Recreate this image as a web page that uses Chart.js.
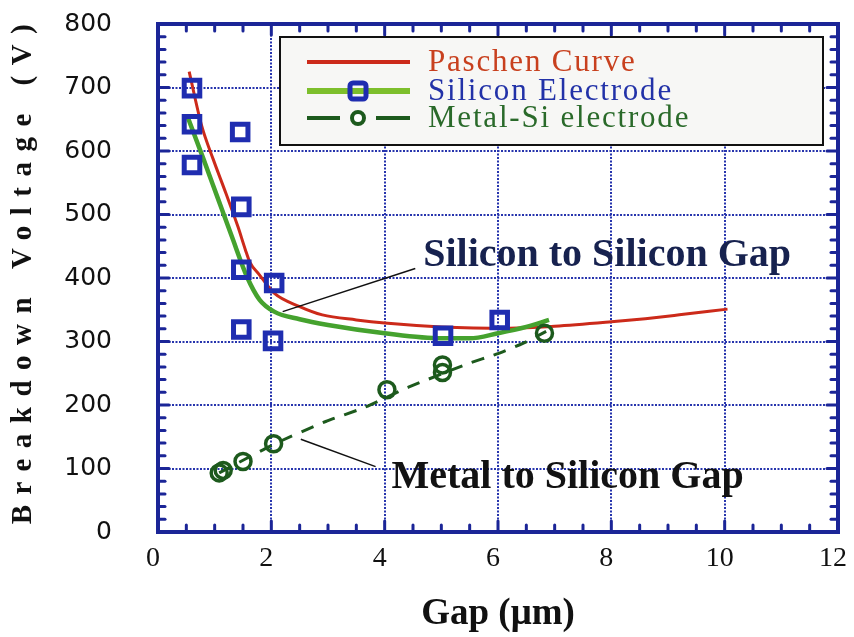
<!DOCTYPE html>
<html>
<head>
<meta charset="utf-8">
<script src="https://cdn.jsdelivr.net/npm/chart.js@4/dist/chart.umd.min.js"></script>
<style>
html,body{margin:0;padding:0;background:#ffffff;}
#wrap{width:854px;height:637px;}
</style>
</head>
<body>
<div id="wrap"><canvas id="c" width="854" height="637"></canvas></div>
<script>
// ---------- data ----------
const xTickLabels = ['0', '2', '4', '6', '8', '10', '12'];
const yTickLabels = ['0', '100', '200', '300', '400', '500', '600', '700', '800'];

const seriesNames = ['Paschen Curve', 'Silicon Electrode', 'Metal-Si electrode'];

// Paschen curve (red)
const paschenX = [0.55, 0.77, 0.97, 1.2, 1.41, 1.54, 1.62, 1.79, 2.05, 2.5, 2.9, 3.5, 4.0, 5.0, 6.2, 7.0, 8.0, 8.6, 9.2, 10.05];
const paschenY = [725, 640, 588, 533, 481, 445, 425, 405, 376, 355, 342, 334, 329, 323, 321, 324, 331, 336, 342, 351];

// Silicon electrode fitted curve (green)
const siliconCurveX = [0.53, 0.8, 1.05, 1.3, 1.57, 1.79, 2.05, 2.5, 3.0, 4.0, 5.0, 5.5, 6.0, 6.5, 6.9];
const siliconCurveY = [652, 588, 527, 466, 402, 366, 347, 335, 326, 313, 305, 305, 313, 323, 334];

// Silicon electrode measurements (blue squares)
const siliconDataX = [0.6, 0.6, 0.6, 1.45, 1.47, 1.47, 1.47, 2.05, 2.03, 5.03, 6.03];
const siliconDataY = [699, 642, 578, 630, 512, 413, 319, 392, 301, 309, 334];

// Metal-Si electrode measurements (green circles)
const metalDataX = [1.08, 1.15, 1.5, 2.04, 4.04, 5.02, 5.02, 6.82];
const metalDataY = [93, 97, 111, 139, 224, 263, 251, 313];

// Metal-Si electrode dashed trend line
const metalLineX = [1.08, 2.04, 2.96, 3.64, 4.42, 5.47, 5.97, 6.44, 6.85];
const metalLineY = [93, 138, 174, 196, 228, 265, 280, 297, 316];

// Annotations (text + pointer line, in data units)
const annotationTexts = ['Silicon to Silicon Gap', 'Metal to Silicon Gap'];
const annotationFromX = [2.2, 2.52];
const annotationFromY = [347, 146];
const annotationToX = [4.54, 3.84];
const annotationToY = [415, 103];
const annotationTextX = [4.68, 4.12];
const annotationTextY = [419, 70];

const xTitle = 'Gap (\u03bcm)';
const yTitle = 'Breakdown Voltage (V)';

// ---------- style ----------
const FRAME = '#1b2597';
const GRID = '#2634ad';
const RED = '#cc2a1a';
const GREEN = '#45a22e';
const GREEN_LEG = '#7dbf2c';
const BLUE = '#1f2db0';
const DKGREEN = '#1d5a1d';

function pts(xs, ys) { return xs.map((v, i) => ({x: v, y: ys[i]})); }

const framePlugin = {
  id: 'frameTicks',
  beforeDatasetsDraw(chart) {
    const {ctx, chartArea: a, scales: {x, y}} = chart;
    ctx.save();
    ctx.strokeStyle = FRAME;
    ctx.lineCap = 'round';
    ctx.lineWidth = 3;
    const seg = (x1, y1, x2, y2) => { ctx.beginPath(); ctx.moveTo(x1, y1); ctx.lineTo(x2, y2); ctx.stroke(); };
    for (let i = 0; i <= 24; i++) {
      const v = i * 0.5;
      const px = x.getPixelForValue(v);
      const L = (i % 4 === 0) ? 11 : 7;
      seg(px, a.bottom, px, a.bottom - L);
      seg(px, a.top, px, a.top + L);
    }
    for (let i = 0; i <= 40; i++) {
      const v = i * 20;
      const py = y.getPixelForValue(v);
      const L = (i % 5 === 0) ? 11 : 7;
      seg(a.left, py, a.left + L, py);
      seg(a.right, py, a.right - L, py);
    }
    ctx.lineWidth = 4;
    ctx.lineCap = 'butt';
    ctx.strokeRect(a.left, a.top, a.right - a.left, a.bottom - a.top);
    ctx.restore();
  },
  afterDatasetsDraw(chart) {
    const {ctx, chartArea: a, scales: {x, y}} = chart;
    ctx.save();
    // annotations
    ctx.strokeStyle = '#111111';
    ctx.lineWidth = 1.5;
    for (let i = 0; i < annotationTexts.length; i++) {
      ctx.beginPath();
      ctx.moveTo(x.getPixelForValue(annotationFromX[i]), y.getPixelForValue(annotationFromY[i]));
      ctx.lineTo(x.getPixelForValue(annotationToX[i]), y.getPixelForValue(annotationToY[i]));
      ctx.stroke();
      ctx.font = 'bold 40px "Liberation Serif"';
      ctx.fillStyle = i === 0 ? '#17224f' : '#121212';
      ctx.textAlign = 'left';
      ctx.textBaseline = 'alphabetic';
      ctx.fillText(annotationTexts[i], x.getPixelForValue(annotationTextX[i]), y.getPixelForValue(annotationTextY[i]));
    }
    // legend box
    const L = a.left + 122, T = a.top + 13, R = a.right - 15, B = a.top + 121;
    ctx.fillStyle = '#f7f7f5';
    ctx.fillRect(L, T, R - L, B - T);
    ctx.strokeStyle = '#111111';
    ctx.lineWidth = 2;
    ctx.strokeRect(L, T, R - L, B - T);
    const rows = [T + 25, T + 54, T + 81];
    const x1 = L + 27, x2 = L + 130, xm = L + 78;
    // Paschen
    ctx.strokeStyle = RED; ctx.lineWidth = 4;
    ctx.beginPath(); ctx.moveTo(x1, rows[0]); ctx.lineTo(x2, rows[0]); ctx.stroke();
    // Silicon
    ctx.strokeStyle = GREEN_LEG; ctx.lineWidth = 6;
    ctx.beginPath(); ctx.moveTo(x1, rows[1]); ctx.lineTo(x2, rows[1]); ctx.stroke();
    ctx.strokeStyle = BLUE; ctx.lineWidth = 5;
    ctx.beginPath(); ctx.roundRect(xm - 8, rows[1] - 8, 16, 16, 3); ctx.stroke();
    // Metal
    ctx.strokeStyle = DKGREEN; ctx.lineWidth = 4;
    ctx.beginPath(); ctx.moveTo(x1, rows[2]); ctx.lineTo(xm - 18, rows[2]); ctx.stroke();
    ctx.beginPath(); ctx.moveTo(xm + 18, rows[2]); ctx.lineTo(x2, rows[2]); ctx.stroke();
    ctx.fillStyle = '#ffffff';
    ctx.beginPath(); ctx.arc(xm, rows[2], 6, 0, Math.PI * 2); ctx.fill(); ctx.stroke();
    // legend texts
    ctx.font = '31px "Liberation Serif"';
    ctx.textAlign = 'left';
    ctx.textBaseline = 'middle';
    ctx.letterSpacing = '1.8px';
    const tcol = ['#c8401e', '#2232a8', '#2a6a2a'];
    for (let i = 0; i < 3; i++) {
      ctx.fillStyle = tcol[i];
      ctx.fillText(seriesNames[i], L + 148, rows[i] + 1);
    }
    ctx.restore();
  },
  afterDraw(chart) {
    const {ctx, chartArea: a} = chart;
    ctx.save();
    // y title
    ctx.translate(24, (a.top + a.bottom) / 2 + 3);
    ctx.rotate(-Math.PI / 2);
    ctx.font = 'bold 29px "Liberation Serif"';
    ctx.letterSpacing = '10.5px';
    ctx.fillStyle = '#111111';
    ctx.textAlign = 'center';
    ctx.textBaseline = 'middle';
    ctx.fillText(yTitle, 12, 0);
    ctx.restore();
  }
};

new Chart(document.getElementById('c'), {
  type: 'scatter',
  data: {
    datasets: [
      {
        label: seriesNames[0], data: pts(paschenX, paschenY), showLine: true,
        borderColor: RED, borderWidth: 3, pointRadius: 0, cubicInterpolationMode: 'monotone', order: 4
      },
      {
        label: seriesNames[1], data: pts(siliconCurveX, siliconCurveY), showLine: true,
        borderColor: GREEN, borderWidth: 4.5, pointRadius: 0, cubicInterpolationMode: 'monotone', order: 3
      },
      {
        label: seriesNames[1] + ' data', data: pts(siliconDataX, siliconDataY), showLine: false,
        pointStyle: 'rect', pointRadius: 11, pointBorderWidth: 5, pointBorderColor: BLUE,
        pointBackgroundColor: 'rgba(0,0,0,0)', order: 1
      },
      {
        label: seriesNames[2] + ' trend', data: pts(metalLineX, metalLineY), showLine: true,
        borderColor: DKGREEN, borderWidth: 3, borderDash: [13, 10], pointRadius: 0, tension: 0.2, order: 2
      },
      {
        label: seriesNames[2], data: pts(metalDataX, metalDataY), showLine: false,
        pointStyle: 'circle', pointRadius: 8, pointBorderWidth: 3.5, pointBorderColor: DKGREEN,
        pointBackgroundColor: 'rgba(0,0,0,0)', order: 0
      }
    ]
  },
  options: {
    responsive: false,
    animation: false,
    layout: {padding: {left: 0, top: 24, right: 13, bottom: 0}},
    plugins: {legend: {display: false}, tooltip: {enabled: false}},
    scales: {
      x: {
        type: 'linear', min: 0, max: 12,
        afterFit(s) { s.height = 105; s.paddingLeft = 0; s.paddingRight = 0; },
        ticks: {
          stepSize: 2, padding: 10, labelOffset: -5, color: '#111111',
          font: {family: '"Liberation Serif"', size: 28},
          callback: (v) => xTickLabels[Math.round(v / 2)] ?? ''
        },
        grid: {
          drawTicks: false, lineWidth: 2,
          color: (c) => (c.tick && (c.tick.value === 0 || c.tick.value === 12)) ? 'rgba(0,0,0,0)' : GRID
        },
        border: {display: false, dash: [2, 1.5]},
        title: {
          display: true, text: xTitle, color: '#111111',
          font: {family: '"Liberation Serif"', size: 37, weight: 'bold'},
          padding: {top: 4, bottom: 0}
        }
      },
      y: {
        type: 'linear', min: 0, max: 800,
        afterFit(s) { s.width = 158; s.paddingTop = 0; s.paddingBottom = 0; },
        ticks: {
          stepSize: 100, padding: 46, color: '#111111',
          font: {family: '"DejaVu Sans"', size: 25},
          callback: (v) => yTickLabels[Math.round(v / 100)] ?? ''
        },
        grid: {
          drawTicks: false, lineWidth: 2,
          color: (c) => (c.tick && (c.tick.value === 0 || c.tick.value === 800)) ? 'rgba(0,0,0,0)' : GRID
        },
        border: {display: false, dash: [2, 1.5]}
      }
    }
  },
  plugins: [framePlugin]
});
</script>
</body>
</html>
